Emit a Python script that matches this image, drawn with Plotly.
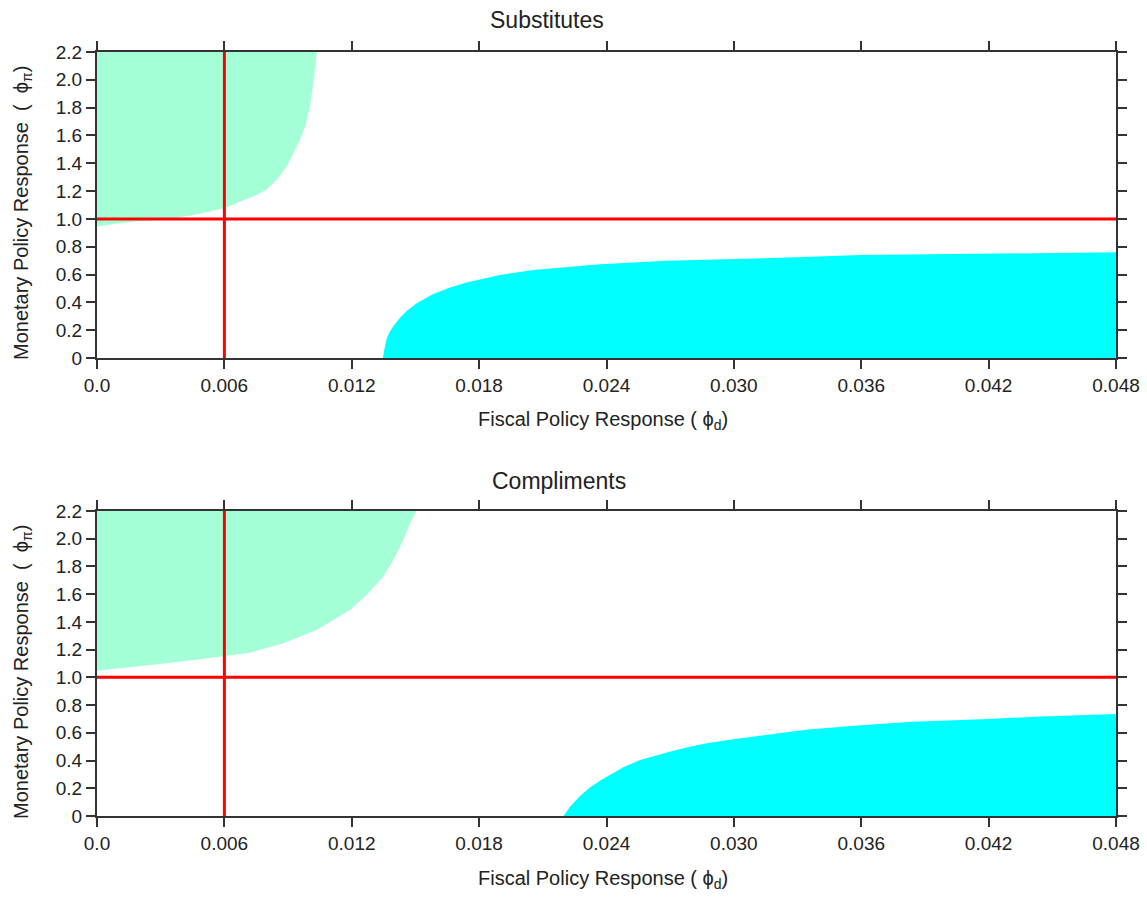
import plotly.graph_objects as go

W, H = 1147, 897

# ---- data ----
x_ticks = [0.0, 0.006, 0.012, 0.018, 0.024, 0.030, 0.036, 0.042, 0.048]
x_ticktext = ["0.0", "0.006", "0.012", "0.018", "0.024", "0.030", "0.036", "0.042", "0.048"]
y_ticks = [0, 0.2, 0.4, 0.6, 0.8, 1.0, 1.2, 1.4, 1.6, 1.8, 2.0, 2.2]
y_ticktext = ["0", "0.2", "0.4", "0.6", "0.8", "1.0", "1.2", "1.4", "1.6", "1.8", "2.0", "2.2"]

# Substitutes: upper-left (green) boundary
sub_green_x = [0.0, 0.00171, 0.00312, 0.00454, 0.00598, 0.00674, 0.00736, 0.00799, 0.00846,
               0.00894, 0.00925, 0.00956, 0.0098, 0.01003, 0.01019, 0.01027, 0.01036]
sub_green_y = [0.945, 0.981, 0.993, 1.029, 1.077, 1.125, 1.161, 1.209, 1.281,
               1.376, 1.473, 1.568, 1.664, 1.808, 1.976, 2.096, 2.2]
# Substitutes: lower-right (cyan) boundary
sub_cyan_x = [0.01347, 0.01352, 0.01365, 0.0138, 0.01396, 0.01427, 0.01459, 0.01506, 0.01584,
              0.01663, 0.01741, 0.01898, 0.02055, 0.0237, 0.02684, 0.0322, 0.036, 0.042, 0.048]
sub_cyan_y = [0.0, 0.05, 0.142, 0.19, 0.228, 0.29, 0.338, 0.393, 0.46,
              0.506, 0.542, 0.597, 0.633, 0.674, 0.70, 0.72, 0.74, 0.748, 0.76]

# Compliments: upper-left (green) boundary
com_green_x = [0.0, 0.00171, 0.00328, 0.00485, 0.00598, 0.00721, 0.00878, 0.01035, 0.01113,
               0.01192, 0.0127, 0.01349, 0.01396, 0.01443, 0.01482, 0.01506]
com_green_y = [1.048, 1.073, 1.101, 1.130, 1.154, 1.178, 1.246, 1.342, 1.414,
               1.486, 1.595, 1.727, 1.847, 1.991, 2.136, 2.2]
# Compliments: lower-right (cyan) boundary
com_cyan_x = [0.02197, 0.02228, 0.02275, 0.02322, 0.02369, 0.02417, 0.02479, 0.02558, 0.02636,
              0.02715, 0.02793, 0.02872, 0.02998, 0.0316, 0.0335, 0.036, 0.0384, 0.042, 0.0442, 0.048]
com_cyan_y = [0.0, 0.067, 0.144, 0.205, 0.255, 0.296, 0.351, 0.404, 0.44,
              0.471, 0.5, 0.524, 0.553, 0.588, 0.624, 0.655, 0.68, 0.699, 0.716, 0.735]

phi_d_ref = 0.006
phi_pi_ref = 1.0
y_max = 2.2

GREEN = "#A5FFD6"
CYAN = "#00FFFF"
FONT = "Liberation Sans, Arial, sans-serif"

fig = go.Figure()

panels = [
    ("x", "y", sub_green_x, sub_green_y, sub_cyan_x, sub_cyan_y),
    ("x2", "y2", com_green_x, com_green_y, com_cyan_x, com_cyan_y),
]
for xa, ya, gx, gy, cx, cy in panels:
    fig.add_trace(go.Scatter(x=gx, y=gy, mode="lines", line=dict(width=0, color=GREEN),
                             xaxis=xa, yaxis=ya, showlegend=False, hoverinfo="skip"))
    fig.add_trace(go.Scatter(x=gx, y=[y_max] * len(gx), mode="lines", line=dict(width=0, color=GREEN),
                             fill="tonexty", fillcolor=GREEN,
                             xaxis=xa, yaxis=ya, showlegend=False, hoverinfo="skip"))
    fig.add_trace(go.Scatter(x=cx, y=cy, mode="lines", line=dict(width=0, color=CYAN),
                             fill="tozeroy", fillcolor=CYAN,
                             xaxis=xa, yaxis=ya, showlegend=False, hoverinfo="skip"))
    fig.add_shape(type="line", xref=xa, yref=ya, x0=phi_d_ref, x1=phi_d_ref, y0=0, y1=y_max,
                  line=dict(color="#FF0000", width=3), layer="above")
    fig.add_shape(type="line", xref=xa, yref=ya, x0=0, x1=x_ticks[-1], y0=phi_pi_ref, y1=phi_pi_ref,
                  line=dict(color="#FF0000", width=3), layer="above")

def px_x(p):
    return p / W

def px_y(p):
    return 1 - p / H

axis_common = dict(showline=True, linecolor="#333333", linewidth=2, mirror="allticks",
                   ticks="outside", ticklen=9, tickwidth=2, tickcolor="#333333",
                   showgrid=False, zeroline=False, automargin=False,
                   tickfont=dict(family=FONT, size=19, color="#222222"))

xdom = [px_x(97), px_x(1116)]
fig.update_layout(
    width=W, height=H,
    margin=dict(l=0, r=0, t=0, b=0, autoexpand=False),
    paper_bgcolor="white", plot_bgcolor="white",
    xaxis=dict(domain=xdom, range=[0, 0.048], tickvals=x_ticks, ticktext=x_ticktext,
               anchor="y", **axis_common),
    yaxis=dict(domain=[px_y(358), px_y(52)], range=[0, 2.2], tickvals=y_ticks, ticktext=y_ticktext,
               anchor="x", **axis_common),
    xaxis2=dict(domain=xdom, range=[0, 0.048], tickvals=x_ticks, ticktext=x_ticktext,
                anchor="y2", **axis_common),
    yaxis2=dict(domain=[px_y(816), px_y(511)], range=[0, 2.2], tickvals=y_ticks, ticktext=y_ticktext,
                anchor="x2", **axis_common),
)

ann = []
def add_text(text, x, y, size, angle=0):
    ann.append(dict(text=text, x=px_x(x), y=px_y(y), xref="paper", yref="paper",
                    xanchor="center", yanchor="middle", showarrow=False, textangle=angle,
                    font=dict(family=FONT, size=size, color="#222222")))

add_text("Substitutes", 547, 20, 23)
add_text("Compliments", 559, 481, 23)
xt = "Fiscal Policy Response ( ϕ<sub>d</sub>)"
yt = "Monetary Policy Response  (  ϕ<sub>π</sub>)"
add_text(xt, 603, 420, 20)
add_text(xt, 603, 879, 20)
add_text(yt, 22, 213, 20, -90)
add_text(yt, 22, 672, 20, -90)
fig.update_layout(annotations=ann)

fig.write_html("out.html")
